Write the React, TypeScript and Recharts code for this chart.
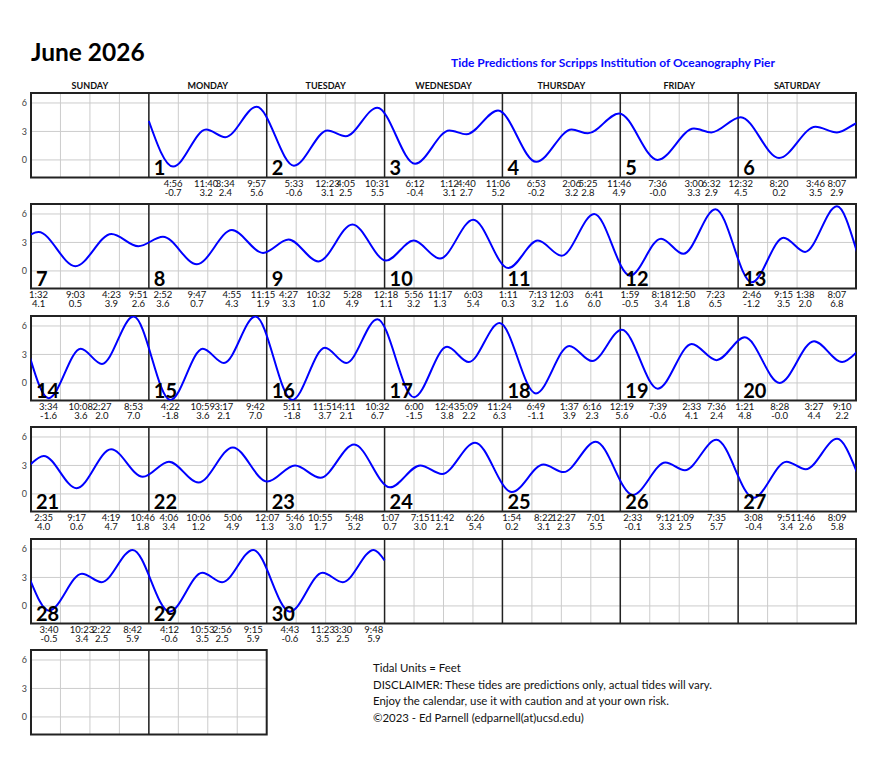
import React from "react";
import {
  ComposedChart,
  Line,
  XAxis,
  YAxis,
  CartesianGrid,
  ReferenceLine,
  ReferenceArea,
  ReferenceDot,
} from "recharts";

// ---------------- data ----------------
const monthTitle = "June 2026";
const subtitle = "Tide Predictions for Scripps Institution of Oceanography Pier";
const dayNames = ["SUNDAY", "MONDAY", "TUESDAY", "WEDNESDAY", "THURSDAY", "FRIDAY", "SATURDAY"];
const footerLines = [
  "Tidal Units = Feet",
  "DISCLAIMER: These tides are predictions only, actual tides will vary.",
  "Enjoy the calendar, use it with caution and at your own risk.",
  "\u00A92023 - Ed Parnell (edparnell(at)ucsd.edu)",
];
const yTicks = [0, 3, 6];
const yDomain: [number, number] = [-1.85, 7.05];
const firstDayColumn = 1; // June 1 2026 is a Monday
const rowCount = 6;
const lastRowCells = 2;
const levelAtStart = 4.1; // level at June 1 00:00
const levelAtEnd = 4.8; // level at June 30 24:00

// tide extremes per day (24h clock)
const tideTimes: string[][] = [
  ["04:56", "11:40", "15:34", "21:57"],
  ["05:33", "12:23", "16:05", "22:31"],
  ["06:12", "13:12", "16:40", "23:06"],
  ["06:53", "14:06", "17:25", "23:46"],
  ["07:36", "15:00", "18:32"],
  ["00:32", "08:20", "15:46", "20:07"],
  ["01:32", "09:03", "16:23", "21:51"],
  ["02:52", "09:47", "16:55", "23:15"],
  ["04:27", "10:32", "17:28"],
  ["00:18", "05:56", "11:17", "18:03"],
  ["01:11", "07:13", "12:03", "18:41"],
  ["01:59", "08:18", "12:50", "19:23"],
  ["02:46", "09:15", "13:38", "20:07"],
  ["03:34", "10:08", "14:27", "20:53"],
  ["04:22", "10:59", "15:17", "21:42"],
  ["05:11", "11:51", "16:11", "22:32"],
  ["06:00", "12:43", "17:09", "23:24"],
  ["06:49", "13:37", "18:16"],
  ["00:19", "07:39", "14:33", "19:36"],
  ["01:21", "08:28", "15:27", "21:10"],
  ["02:35", "09:17", "16:19", "22:46"],
  ["04:06", "10:06", "17:06"],
  ["00:07", "05:46", "10:55", "17:48"],
  ["01:07", "07:15", "11:42", "18:26"],
  ["01:54", "08:22", "12:27", "19:01"],
  ["02:33", "09:12", "13:09", "19:35"],
  ["03:08", "09:51", "13:46", "20:09"],
  ["03:40", "10:23", "14:22", "20:42"],
  ["04:12", "10:53", "14:56", "21:15"],
  ["04:43", "11:23", "15:30", "21:48"],
];
const tideHeights: number[][] = [
  [-0.7, 3.2, 2.4, 5.6],
  [-0.6, 3.1, 2.5, 5.5],
  [-0.4, 3.1, 2.7, 5.2],
  [-0.2, 3.2, 2.8, 4.9],
  [-0, 3.3, 2.9],
  [4.5, 0.2, 3.5, 2.9],
  [4.1, 0.5, 3.9, 2.6],
  [3.6, 0.7, 4.3, 1.9],
  [3.3, 1.0, 4.9],
  [1.1, 3.2, 1.3, 5.4],
  [0.3, 3.2, 1.6, 6.0],
  [-0.5, 3.4, 1.8, 6.5],
  [-1.2, 3.5, 2.0, 6.8],
  [-1.6, 3.6, 2.0, 7.0],
  [-1.8, 3.6, 2.1, 7.0],
  [-1.8, 3.7, 2.1, 6.7],
  [-1.5, 3.8, 2.2, 6.3],
  [-1.1, 3.9, 2.3],
  [5.6, -0.6, 4.1, 2.4],
  [4.8, -0, 4.4, 2.2],
  [4.0, 0.6, 4.7, 1.8],
  [3.4, 1.2, 4.9],
  [1.3, 3.0, 1.7, 5.2],
  [0.7, 3.0, 2.1, 5.4],
  [0.2, 3.1, 2.3, 5.5],
  [-0.1, 3.3, 2.5, 5.7],
  [-0.4, 3.4, 2.6, 5.8],
  [-0.5, 3.4, 2.5, 5.9],
  [-0.6, 3.5, 2.5, 5.9],
  [-0.6, 3.5, 2.5, 5.9],
];

// ---------------- helpers ----------------
type Ev = { t: number; v: number; label: string; h: string };

function toHours(s: string) {
  const [h, m] = s.split(":").map(Number);
  return h + m / 60;
}
function fmtTime(s: string) {
  const [h, m] = s.split(":").map(Number);
  const hh = h % 12 === 0 ? 12 : h % 12;
  return `${hh}:${String(m).padStart(2, "0")}`;
}
function fmtHeight(v: number) {
  const neg = v < 0 || Object.is(v, -0);
  return (neg ? "-" : "") + Math.abs(v).toFixed(1);
}

const events: Ev[] = [];
tideTimes.forEach((times, di) => {
  times.forEach((tm, k) => {
    events.push({
      t: di * 24 + toHours(tm),
      v: tideHeights[di][k],
      label: fmtTime(tm),
      h: fmtHeight(tideHeights[di][k]),
    });
  });
});
const daysInMonth = tideTimes.length;
const series = [
  { t: 0, v: levelAtStart },
  ...events.map((e) => ({ t: e.t, v: e.v })),
  { t: daysInMonth * 24, v: levelAtEnd },
];

// ---------------- layout (styles) ----------------
const FONT = "Lato, 'Open Sans', sans-serif";
const BODY_MARGIN = 8;
const PLOT_LEFT = 31;
const DAY_W = 825 / 7;
const PLOT_H = 84.5;
const ROW_TOP0 = 93;
const ROW_STEP = 111.4;
const Y_AXIS_W = 23;
const RIGHT_M = 6;
const EV_AXIS_H = 24;
const DAYS_AXIS_H = 16;
const TOP_M = 2;
const FRAME = "#222";
const GRID = "#cccccc";

function WeekRow({ r }: { r: number }) {
  const cols = r === rowCount - 1 ? lastRowCells : 7;
  const span = cols * 24;
  const rowStart = (r * 7 - firstDayColumn) * 24;
  const plotW = DAY_W * cols;
  const hasDays = r === 0;
  const plotTop = TOP_M + (hasDays ? DAYS_AXIS_H : 0);
  const width = Y_AXIS_W + plotW + RIGHT_M;
  const height = plotTop + PLOT_H + EV_AXIS_H;
  const top = ROW_TOP0 + ROW_STEP * r - plotTop - BODY_MARGIN;
  const left = PLOT_LEFT - Y_AXIS_W - BODY_MARGIN;

  const data = series.map((p) => ({ x: p.t - rowStart, y: p.v }));
  const rowEvents = events
    .map((e) => ({ ...e, x: e.t - rowStart }))
    .filter((e) => e.x >= 0 && e.x < span);
  const evMap = new Map<string, (typeof rowEvents)[number]>();
  rowEvents.forEach((e) => evMap.set(e.x.toFixed(4), e));
  const evTicks = rowEvents.map((e) => e.x);
  const gridTicks = Array.from({ length: cols * 4 + 1 }, (_, i) => i * 6);
  const cells = Array.from({ length: cols }, (_, c) => ({
    c,
    day: r * 7 + c - firstDayColumn + 1,
  }));
  const hasLine = rowEvents.length > 0;

  const renderEv = (p: any) => {
    const e = evMap.get(Number(p.payload.value).toFixed(4));
    if (!e) return <g />;
    return (
      <g>
        <text x={p.x} y={p.y + 9} textAnchor="middle" fontSize={9.5} fill="#111" fontFamily={FONT}>
          {e.label}
        </text>
        <text x={p.x} y={p.y + 18.5} textAnchor="middle" fontSize={9.5} fill="#111" fontFamily={FONT}>
          {e.h}
        </text>
      </g>
    );
  };
  const renderDay = (p: any) => {
    const idx = Math.floor(Number(p.payload.value) / 24);
    return (
      <text x={p.x} y={p.y} textAnchor="middle" fontSize={9} fontWeight={700} fill="#111" fontFamily={FONT}>
        {dayNames[idx]}
      </text>
    );
  };

  return (
    <div style={{ position: "absolute", left, top, width, height }}>
      <ComposedChart
        width={width}
        height={height}
        data={data}
        margin={{ top: TOP_M, right: RIGHT_M, left: 0, bottom: 0 }}
      >
        <CartesianGrid stroke={GRID} strokeWidth={1} />
        <XAxis
          xAxisId="ev"
          dataKey="x"
          type="number"
          domain={[0, span]}
          allowDataOverflow
          ticks={evTicks}
          interval={0}
          tickLine={false}
          axisLine={false}
          tickSize={0}
          tickMargin={0}
          height={EV_AXIS_H}
          tick={renderEv}
        />
        <XAxis
          dataKey="x"
          type="number"
          domain={[0, span]}
          allowDataOverflow
          ticks={gridTicks}
          height={0}
          hide
        />
        {hasDays && (
          <XAxis
            xAxisId="days"
            dataKey="x"
            orientation="top"
            type="number"
            domain={[0, span]}
            allowDataOverflow
            ticks={dayNames.map((_, i) => i * 24 + 12)}
            interval={0}
            tickLine={false}
            axisLine={false}
            tickSize={0}
            tickMargin={4.5}
            height={DAYS_AXIS_H}
            tick={renderDay}
          />
        )}
        <YAxis
          type="number"
          domain={yDomain}
          allowDataOverflow
          ticks={yTicks}
          interval={0}
          width={Y_AXIS_W}
          tickLine={false}
          axisLine={false}
          tickSize={0}
          tickMargin={4}
          tick={{ fontSize: 9, fill: "#444", fontFamily: FONT }}
        />
        {cells
          .filter((cell) => cell.c > 0)
          .map((cell) => (
            <ReferenceLine key={"sep" + cell.c} x={cell.c * 24} stroke={FRAME} strokeWidth={1.5} />
          ))}
        <ReferenceArea
          x1={0}
          x2={span}
          y1={yDomain[0]}
          y2={yDomain[1]}
          fill="none"
          fillOpacity={0}
          stroke={FRAME}
          strokeWidth={2}
          ifOverflow="visible"
        />
        {cells
          .filter((cell) => cell.day >= 1 && cell.day <= daysInMonth)
          .map((cell) => (
            <ReferenceDot
              key={"num" + cell.c}
              x={cell.c * 24}
              y={yDomain[0]}
              r={0}
              fill="none"
              stroke="none"
              ifOverflow="visible"
              label={{
                content: (p: any) => {
                  const vb = p.viewBox || { x: 0, y: 0 };
                  return (
                    <text
                      x={vb.x + 5}
                      y={vb.y - 2.5}
                      fontSize={20}
                      fontWeight={700}
                      fill="#000"
                      fontFamily={FONT}
                    >
                      {cell.day}
                    </text>
                  );
                },
              }}
            />
          ))}
        {hasLine && (
          <Line
            dataKey="y"
            type="monotone"
            stroke="#0000ff"
            strokeWidth={2}
            dot={false}
            activeDot={false}
            isAnimationActive={false}
          />
        )}
      </ComposedChart>
    </div>
  );
}

export default function App() {
  return (
    <div style={{ position: "relative", width: 854, height: 757, fontFamily: FONT }}>
      <svg
        width={870}
        height={773}
        style={{ position: "absolute", left: -BODY_MARGIN, top: -BODY_MARGIN, pointerEvents: "none" }}
      >
        <text x={31} y={61} fontSize={24.5} fontWeight={700} fill="#000" fontFamily={FONT}>
          {monthTitle}
        </text>
        <text x={451} y={67} fontSize={12} fontWeight={700} fill="#0a0aff" fontFamily={FONT}>
          {subtitle}
        </text>
        {footerLines.map((l, i) => (
          <text key={i} x={373} y={672 + i * 16.67} fontSize={11.4} fill="#111" fontFamily={FONT}>
            {l}
          </text>
        ))}
      </svg>
      {Array.from({ length: rowCount }, (_, r) => (
        <WeekRow key={r} r={r} />
      ))}
    </div>
  );
}
